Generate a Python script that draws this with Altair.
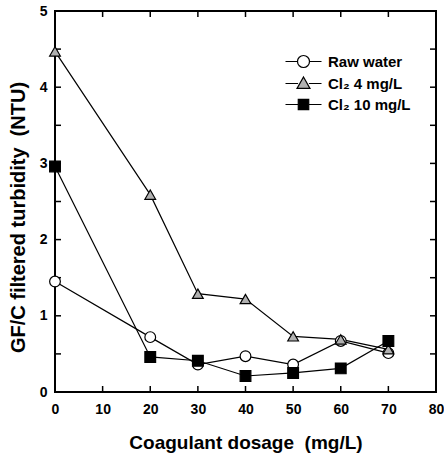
import altair as alt
import pandas as pd

# Coagulant dosage (mg/L) and GF/C filtered turbidity (NTU) for each pre-treatment
dosage = [0, 20, 30, 40, 50, 60, 70]
raw_water = [1.45, 0.72, 0.36, 0.47, 0.36, 0.67, 0.51]
cl2_4 = [4.47, 2.59, 1.29, 1.22, 0.73, 0.69, 0.56]
cl2_10 = [2.96, 0.46, 0.41, 0.21, 0.25, 0.31, 0.67]

series_names = ["Raw water", "Cl₂ 4 mg/L", "Cl₂ 10 mg/L"]
marker_fills = ["white", "#b0b0b0", "black"]
x_tick_values = [0, 10, 20, 30, 40, 50, 60, 70, 80]
y_tick_values = [0, 0.5, 1, 1.5, 2, 2.5, 3, 3.5, 4, 4.5, 5]

rows = []
for name, vals in zip(series_names, [raw_water, cl2_4, cl2_10]):
    for d, v in zip(dosage, vals):
        rows.append({"dosage": d, "turbidity": v, "series": name})
df = pd.DataFrame(rows)
x_ticks_df = pd.DataFrame({"dosage": x_tick_values})
y_ticks_df = pd.DataFrame({"turbidity": y_tick_values})

FONT = "Liberation Sans"
W, H = 381, 381
TICK = 6

# legend glyphs (unit = half the nominal symbol width): a line segment
# running through the marker, wider than the nominal symbol box
legend_paths = [
    "M-3,0L-1,0M1,0L3,0M-1,0A1,1 0 1,0 1,0A1,1 0 1,0 -1,0Z",
    "M-3,0L-0.9,0M0.9,0L3,0M0,-1.08L1.08,0.81L-1.08,0.81Z",
    "M-3,0L-0.87,0M0.87,0L3,0M-0.87,-0.87L0.87,-0.87L0.87,0.87L-0.87,0.87Z",
]

x_scale = alt.Scale(domain=[0, 80], nice=False, zero=False)
y_scale = alt.Scale(domain=[0, 5], nice=False, zero=False)

x_axis = alt.Axis(
    orient="bottom", values=x_tick_values, ticks=True, tickSize=0, tickOpacity=0,
    domain=False, grid=False,
    labelPadding=10, labelFont=FONT, labelFontSize=14, labelFontWeight="bold",
    labelColor="black", labelFlush=False,
    title="Coagulant dosage\u00a0 (mg/L)", titleFont=FONT, titleFontSize=19,
    titleFontWeight="bold", titleColor="black", titleX=W / 2, titleY=50,
    titleBaseline="middle", titleAlign="center",
)
y_axis = alt.Axis(
    orient="left", values=y_tick_values, ticks=True, tickSize=0, tickOpacity=0,
    domain=False, grid=False,
    labelPadding=8, labelFont=FONT, labelFontSize=14, labelFontWeight="bold",
    labelColor="black", labelFlush=False,
    labelExpr="datum.value % 1 === 0 ? '' + datum.value : ''",
    title="GF/C filtered turbidity\u00a0 (NTU)", titleFont=FONT, titleFontSize=20,
    titleFontWeight="bold", titleColor="black", titleX=-37, titleY=206,
    titleBaseline="middle", titleAlign="center", titleAngle=-90,
)

# every layer carries the same axis definition so the shared axes merge cleanly
x_pos = alt.X("dosage:Q", scale=x_scale, axis=x_axis)
y_pos = alt.Y("turbidity:Q", scale=y_scale, axis=y_axis)

# inward-pointing tick marks on all four sides of the frame
tick_style = dict(color="black", strokeWidth=1.5)
ticks_bottom = alt.Chart(x_ticks_df).mark_rule(**tick_style).encode(
    x=x_pos, y=alt.value(H), y2=alt.value(H - TICK))
ticks_top = alt.Chart(x_ticks_df).mark_rule(**tick_style).encode(
    x=x_pos, y=alt.value(0), y2=alt.value(TICK))
ticks_left = alt.Chart(y_ticks_df).mark_rule(**tick_style).encode(
    y=y_pos, x=alt.value(0), x2=alt.value(TICK))
ticks_right = alt.Chart(y_ticks_df).mark_rule(**tick_style).encode(
    y=y_pos, x=alt.value(W), x2=alt.value(W - TICK))

lines = alt.Chart(df).mark_line(color="black", strokeWidth=1.2).encode(
    x=x_pos,
    y=y_pos,
    detail="series:N",
    order="dosage:Q",
)

points = alt.Chart(df).mark_point(
    filled=True, stroke="black", strokeWidth=1.2, size=115, opacity=1
).encode(
    x=x_pos,
    y=y_pos,
    shape=alt.Shape("series:N", sort=series_names,
                    scale=alt.Scale(domain=series_names,
                                    range=["circle", "triangle-up", "square"]),
                    legend=None),
    fill=alt.Fill("series:N", sort=series_names,
                  scale=alt.Scale(domain=series_names, range=marker_fills),
                  legend=None),
)

key = dict(
    title=None, orient="none", legendX=241, legendY=43,
    symbolSize=144, rowPadding=4, labelOffset=17,
    labelFont=FONT, labelFontSize=15, labelFontWeight="bold",
    labelColor="black", symbolStrokeColor="black",
    symbolStrokeWidth=1.2, symbolOpacity=1, padding=0,
)

legend_layer = alt.Chart(df).mark_point(
    filled=True, strokeWidth=1.2, opacity=0
).encode(
    x=x_pos,
    y=y_pos,
    shape=alt.Shape("series:N", sort=series_names,
                    scale=alt.Scale(domain=series_names, range=legend_paths),
                    legend=alt.Legend(**key)),
    fill=alt.Fill("series:N", sort=series_names,
                  scale=alt.Scale(domain=series_names, range=marker_fills),
                  legend=alt.Legend(**key)),
    stroke=alt.Stroke("series:N", sort=series_names,
                      scale=alt.Scale(domain=series_names,
                                      range=["black", "black", "black"]),
                      legend=alt.Legend(**key)),
)

chart = (
    alt.layer(lines, ticks_bottom, ticks_top, ticks_left, ticks_right,
              points, legend_layer)
    .resolve_scale(shape="independent", fill="independent", stroke="independent")
    .properties(
        width=W, height=H,
        autosize=alt.AutoSizeParams(type="none"),
        padding={"left": 55, "top": 11, "right": 8, "bottom": 64},
        background="white",
    )
    .configure_view(stroke="black", strokeWidth=2)
)

chart.save("out.html", embed_options={"renderer": "svg", "actions": False})
